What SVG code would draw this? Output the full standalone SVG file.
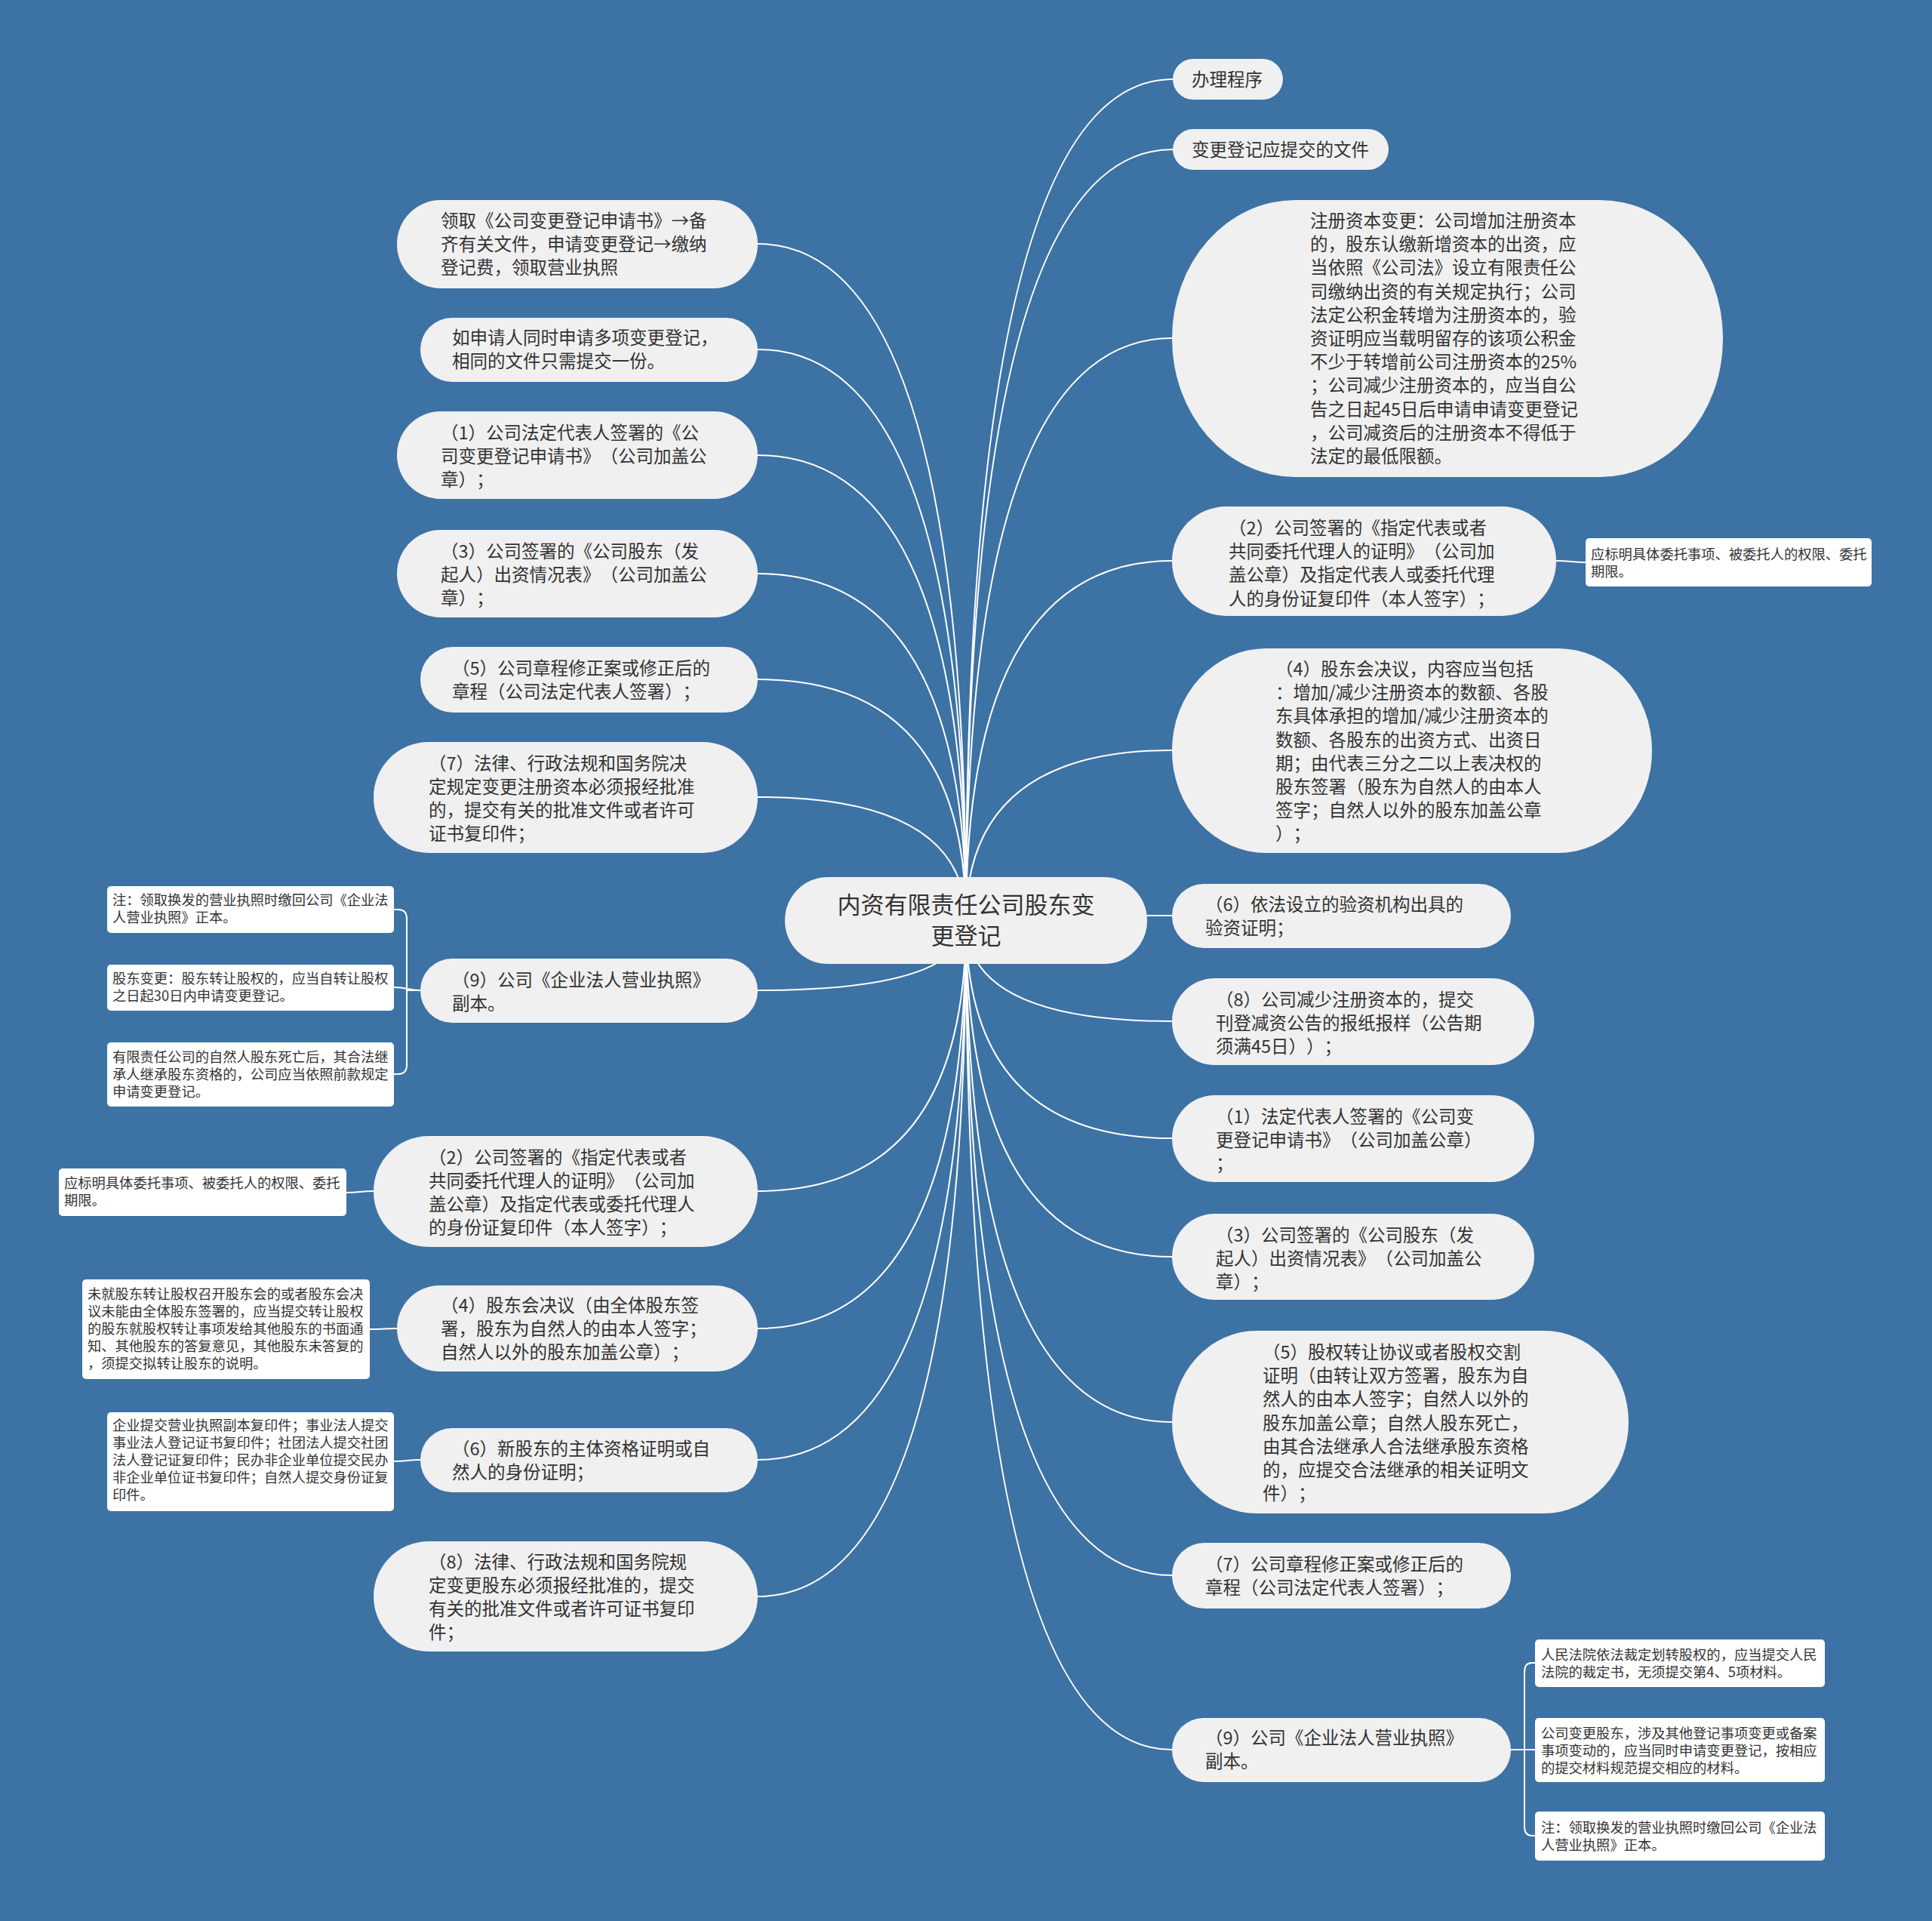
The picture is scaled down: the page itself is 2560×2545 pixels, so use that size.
<svg xmlns="http://www.w3.org/2000/svg" width="2560" height="2545" viewBox="0 0 2560 2545">
<style>
.bg{fill:#3d72a4}
.n{fill:#f0f0f0}
.leaf{fill:#ffffff}
text{text-spacing-trim:space-all}
.t{font-family:"Noto Sans CJK SC","Noto Sans",sans-serif;font-size:23.5px;fill:#333333}
.lt{font-family:"Noto Sans CJK SC","Noto Sans",sans-serif;font-size:18.3px;fill:#333333}
.ct{font-family:"Noto Sans CJK SC","Noto Sans",sans-serif;font-size:31px;fill:#333333;text-anchor:middle}
.c{fill:none;stroke:#ffffff;stroke-width:2}
</style>
<rect class="bg" x="0" y="0" width="2560" height="2545"/>
<g id="connectors">
<path class="c" d="M1280,1220 Q1280,105 1554,105"/>
<path class="c" d="M1280,1220 Q1280,198 1554,198"/>
<path class="c" d="M1280,1220 Q1280,448 1553,448"/>
<path class="c" d="M1280,1220 Q1280,743 1553,743"/>
<path class="c" d="M1280,1220 Q1280,994 1553,994"/>
<path class="c" d="M1280,1220 Q1280,1213 1553,1213"/>
<path class="c" d="M1280,1220 Q1280,1353 1553,1353"/>
<path class="c" d="M1280,1220 Q1280,1508 1553,1508"/>
<path class="c" d="M1280,1220 Q1280,1665 1553,1665"/>
<path class="c" d="M1280,1220 Q1280,1884 1553,1884"/>
<path class="c" d="M1280,1220 Q1280,2087 1553,2087"/>
<path class="c" d="M1280,1220 Q1280,2318 1553,2318"/>
<path class="c" d="M1280,1220 Q1280,323 1004,323"/>
<path class="c" d="M1280,1220 Q1280,463 1004,463"/>
<path class="c" d="M1280,1220 Q1280,603 1004,603"/>
<path class="c" d="M1280,1220 Q1280,760 1004,760"/>
<path class="c" d="M1280,1220 Q1280,900 1004,900"/>
<path class="c" d="M1280,1220 Q1280,1056 1004,1056"/>
<path class="c" d="M1280,1220 Q1280,1312 1004,1312"/>
<path class="c" d="M1280,1220 Q1280,1578 1004,1578"/>
<path class="c" d="M1280,1220 Q1280,1760 1004,1760"/>
<path class="c" d="M1280,1220 Q1280,1934 1004,1934"/>
<path class="c" d="M1280,1220 Q1280,2115 1004,2115"/>
<path class="c" d="M2062,743 C2082,743 2082,745 2101,745"/>
<path class="c" d="M495,1578 C477,1578 477,1580 459,1580"/>
<path class="c" d="M526,1760 C508,1760 508,1761 490,1761"/>
<path class="c" d="M557,1934 C540,1934 540,1936 522,1936"/>
<path class="c" d="M557,1312 L539,1312 L539,1217 Q539,1205 527,1205 L522,1205"/>
<path class="c" d="M557,1312 C540,1312 540,1308 522,1308"/>
<path class="c" d="M557,1312 L539,1312 L539,1411 Q539,1423 527,1423 L522,1423"/>
<path class="c" d="M2002,2318 L2020,2318 L2020,2215 Q2020,2203 2030,2203 L2034,2203"/>
<path class="c" d="M2002,2318 L2034,2318"/>
<path class="c" d="M2002,2318 L2020,2318 L2020,2420 Q2020,2432 2030,2432 L2034,2432"/>
</g>
<g id="center">
<rect class="n" x="1040" y="1162" width="480" height="115" rx="57" ry="57"/>
<text class="ct"><tspan x="1280" y="1210">内资有限责任公司股东变</tspan><tspan x="1280" y="1251">更登记</tspan></text>
</g>
<g id="r1">
<rect class="n" x="1554" y="78" width="146" height="54" rx="27"/>
<text class="t"><tspan x="1579" y="114">办理程序</tspan></text>
</g>
<g id="r2">
<rect class="n" x="1554" y="171" width="286" height="54" rx="27"/>
<text class="t"><tspan x="1579" y="207">变更登记应提交的文件</tspan></text>
</g>
<g id="r3">
<rect class="n" x="1553" y="265" width="730" height="367" rx="163" ry="183"/>
<text class="t"><tspan x="1736" y="301">注册资本变更：公司增加注册资本</tspan><tspan x="1736" y="332.2">的，股东认缴新增资本的出资，应</tspan><tspan x="1736" y="363.4">当依照《公司法》设立有限责任公</tspan><tspan x="1736" y="394.6">司缴纳出资的有关规定执行；公司</tspan><tspan x="1736" y="425.8">法定公积金转增为注册资本的，验</tspan><tspan x="1736" y="457">资证明应当载明留存的该项公积金</tspan><tspan x="1736" y="488.2">不少于转增前公司注册资本的25%</tspan><tspan x="1736" y="519.4">；公司减少注册资本的，应当自公</tspan><tspan x="1736" y="550.6">告之日起45日后申请申请变更登记</tspan><tspan x="1736" y="581.8">，公司减资后的注册资本不得低于</tspan><tspan x="1736" y="613">法定的最低限额。</tspan></text>
</g>
<g id="r4">
<rect class="n" x="1553" y="671" width="509" height="145" rx="72"/>
<text class="t"><tspan x="1628" y="708">（2）公司签署的《指定代表或者</tspan><tspan x="1628" y="739.2">共同委托代理人的证明》（公司加</tspan><tspan x="1628" y="770.4">盖公章）及指定代表人或委托代理</tspan><tspan x="1628" y="801.6">人的身份证复印件（本人签字）；</tspan></text>
</g>
<g id="r4a">
<rect class="leaf" x="2101" y="713" width="379" height="64" rx="5"/>
<text class="lt"><tspan x="2108" y="741">应标明具体委托事项、被委托人的权限、委托</tspan><tspan x="2108" y="764">期限。</tspan></text>
</g>
<g id="r5">
<rect class="n" x="1553" y="859" width="636" height="271" rx="125" ry="135"/>
<text class="t"><tspan x="1690" y="895">（4）股东会决议，内容应当包括</tspan><tspan x="1690" y="926.2">：增加/减少注册资本的数额、各股</tspan><tspan x="1690" y="957.4">东具体承担的增加/减少注册资本的</tspan><tspan x="1690" y="988.6">数额、各股东的出资方式、出资日</tspan><tspan x="1690" y="1019.8">期；由代表三分之二以上表决权的</tspan><tspan x="1690" y="1051">股东签署（股东为自然人的由本人</tspan><tspan x="1690" y="1082.2">签字；自然人以外的股东加盖公章</tspan><tspan x="1690" y="1113.4">）；</tspan></text>
</g>
<g id="r6">
<rect class="n" x="1553" y="1171" width="449" height="85" rx="42"/>
<text class="t"><tspan x="1597" y="1207">（6）依法设立的验资机构出具的</tspan><tspan x="1597" y="1238">验资证明；</tspan></text>
</g>
<g id="r7">
<rect class="n" x="1553" y="1296" width="480" height="115" rx="57"/>
<text class="t"><tspan x="1611" y="1333">（8）公司减少注册资本的，提交</tspan><tspan x="1611" y="1364">刊登减资公告的报纸报样（公告期</tspan><tspan x="1611" y="1395">须满45日））；</tspan></text>
</g>
<g id="r8">
<rect class="n" x="1553" y="1451" width="480" height="115" rx="57"/>
<text class="t"><tspan x="1611" y="1488">（1）法定代表人签署的《公司变</tspan><tspan x="1611" y="1519">更登记申请书》（公司加盖公章）</tspan><tspan x="1611" y="1550">；</tspan></text>
</g>
<g id="r9">
<rect class="n" x="1553" y="1608" width="480" height="114" rx="57"/>
<text class="t"><tspan x="1611" y="1645">（3）公司签署的《公司股东（发</tspan><tspan x="1611" y="1676">起人）出资情况表》（公司加盖公</tspan><tspan x="1611" y="1707">章）；</tspan></text>
</g>
<g id="r10">
<rect class="n" x="1553" y="1763" width="605" height="242" rx="112" ry="121"/>
<text class="t"><tspan x="1673" y="1800">（5）股权转让协议或者股权交割</tspan><tspan x="1673" y="1831.2">证明（由转让双方签署，股东为自</tspan><tspan x="1673" y="1862.4">然人的由本人签字；自然人以外的</tspan><tspan x="1673" y="1893.6">股东加盖公章；自然人股东死亡，</tspan><tspan x="1673" y="1924.8">由其合法继承人合法继承股东资格</tspan><tspan x="1673" y="1956">的，应提交合法继承的相关证明文</tspan><tspan x="1673" y="1987.2">件）；</tspan></text>
</g>
<g id="r11">
<rect class="n" x="1553" y="2044" width="449" height="87" rx="43"/>
<text class="t"><tspan x="1597" y="2081">（7）公司章程修正案或修正后的</tspan><tspan x="1597" y="2112">章程（公司法定代表人签署）；</tspan></text>
</g>
<g id="r12">
<rect class="n" x="1553" y="2276" width="449" height="85" rx="42"/>
<text class="t"><tspan x="1597" y="2311">（9）公司《企业法人营业执照》</tspan><tspan x="1597" y="2342">副本。</tspan></text>
</g>
<g id="r12a">
<rect class="leaf" x="2034" y="2172" width="384" height="63" rx="5"/>
<text class="lt"><tspan x="2042" y="2199">人民法院依法裁定划转股权的，应当提交人民</tspan><tspan x="2042" y="2222">法院的裁定书，无须提交第4、5项材料。</tspan></text>
</g>
<g id="r12b">
<rect class="leaf" x="2034" y="2276" width="384" height="85" rx="5"/>
<text class="lt"><tspan x="2042" y="2303">公司变更股东，涉及其他登记事项变更或备案</tspan><tspan x="2042" y="2326">事项变动的，应当同时申请变更登记，按相应</tspan><tspan x="2042" y="2349">的提交材料规范提交相应的材料。</tspan></text>
</g>
<g id="r12c">
<rect class="leaf" x="2034" y="2400" width="384" height="65" rx="5"/>
<text class="lt"><tspan x="2042" y="2428">注：领取换发的营业执照时缴回公司《企业法</tspan><tspan x="2042" y="2451">人营业执照》正本。</tspan></text>
</g>
<g id="l1">
<rect class="n" x="526" y="265" width="478" height="117" rx="58"/>
<text class="t"><tspan x="584" y="301">领取《公司变更登记申请书》→备</tspan><tspan x="584" y="332">齐有关文件，申请变更登记→缴纳</tspan><tspan x="584" y="363">登记费，领取营业执照</tspan></text>
</g>
<g id="l2">
<rect class="n" x="557" y="421" width="447" height="85" rx="42"/>
<text class="t"><tspan x="599" y="456">如申请人同时申请多项变更登记，</tspan><tspan x="599" y="487">相同的文件只需提交一份。</tspan></text>
</g>
<g id="l3">
<rect class="n" x="526" y="545" width="478" height="116" rx="58"/>
<text class="t"><tspan x="584" y="582">（1）公司法定代表人签署的《公</tspan><tspan x="584" y="613">司变更登记申请书》（公司加盖公</tspan><tspan x="584" y="644">章）；</tspan></text>
</g>
<g id="l4">
<rect class="n" x="526" y="702" width="478" height="116" rx="58"/>
<text class="t"><tspan x="584" y="739">（3）公司签署的《公司股东（发</tspan><tspan x="584" y="770">起人）出资情况表》（公司加盖公</tspan><tspan x="584" y="801">章）；</tspan></text>
</g>
<g id="l5">
<rect class="n" x="557" y="857" width="447" height="87" rx="43"/>
<text class="t"><tspan x="599" y="894">（5）公司章程修正案或修正后的</tspan><tspan x="599" y="925">章程（公司法定代表人签署）；</tspan></text>
</g>
<g id="l6">
<rect class="n" x="495" y="983" width="509" height="147" rx="73"/>
<text class="t"><tspan x="568" y="1020">（7）法律、行政法规和国务院决</tspan><tspan x="568" y="1051">定规定变更注册资本必须报经批准</tspan><tspan x="568" y="1082">的，提交有关的批准文件或者许可</tspan><tspan x="568" y="1113">证书复印件；</tspan></text>
</g>
<g id="l7">
<rect class="n" x="557" y="1270" width="447" height="85" rx="42"/>
<text class="t"><tspan x="599" y="1307">（9）公司《企业法人营业执照》</tspan><tspan x="599" y="1338">副本。</tspan></text>
</g>
<g id="l7a">
<rect class="leaf" x="142" y="1174" width="380" height="62" rx="5"/>
<text class="lt"><tspan x="149" y="1199">注：领取换发的营业执照时缴回公司《企业法</tspan><tspan x="149" y="1222">人营业执照》正本。</tspan></text>
</g>
<g id="l7b">
<rect class="leaf" x="142" y="1278" width="380" height="61" rx="5"/>
<text class="lt"><tspan x="149" y="1303">股东变更：股东转让股权的，应当自转让股权</tspan><tspan x="149" y="1326">之日起30日内申请变更登记。</tspan></text>
</g>
<g id="l7c">
<rect class="leaf" x="142" y="1381" width="380" height="85" rx="5"/>
<text class="lt"><tspan x="149" y="1407">有限责任公司的自然人股东死亡后，其合法继</tspan><tspan x="149" y="1430">承人继承股东资格的，公司应当依照前款规定</tspan><tspan x="149" y="1453">申请变更登记。</tspan></text>
</g>
<g id="l8">
<rect class="n" x="495" y="1505" width="509" height="147" rx="73"/>
<text class="t"><tspan x="568" y="1542">（2）公司签署的《指定代表或者</tspan><tspan x="568" y="1573">共同委托代理人的证明》（公司加</tspan><tspan x="568" y="1604">盖公章）及指定代表或委托代理人</tspan><tspan x="568" y="1635">的身份证复印件（本人签字）；</tspan></text>
</g>
<g id="l8a">
<rect class="leaf" x="78" y="1548" width="381" height="63" rx="5"/>
<text class="lt"><tspan x="85" y="1574">应标明具体委托事项、被委托人的权限、委托</tspan><tspan x="85" y="1597">期限。</tspan></text>
</g>
<g id="l9">
<rect class="n" x="526" y="1703" width="478" height="114" rx="57"/>
<text class="t"><tspan x="584" y="1738">（4）股东会决议（由全体股东签</tspan><tspan x="584" y="1769">署，股东为自然人的由本人签字；</tspan><tspan x="584" y="1800">自然人以外的股东加盖公章）；</tspan></text>
</g>
<g id="l9a">
<rect class="leaf" x="109" y="1695" width="381" height="132" rx="5"/>
<text class="lt"><tspan x="116" y="1721">未就股东转让股权召开股东会的或者股东会决</tspan><tspan x="116" y="1744">议未能由全体股东签署的，应当提交转让股权</tspan><tspan x="116" y="1767">的股东就股权转让事项发给其他股东的书面通</tspan><tspan x="116" y="1790">知、其他股东的答复意见，其他股东未答复的</tspan><tspan x="116" y="1813">，须提交拟转让股东的说明。</tspan></text>
</g>
<g id="l10">
<rect class="n" x="557" y="1892" width="447" height="85" rx="42"/>
<text class="t"><tspan x="599" y="1928">（6）新股东的主体资格证明或自</tspan><tspan x="599" y="1959">然人的身份证明；</tspan></text>
</g>
<g id="l10a">
<rect class="leaf" x="142" y="1871" width="380" height="131" rx="5"/>
<text class="lt"><tspan x="149" y="1895">企业提交营业执照副本复印件；事业法人提交</tspan><tspan x="149" y="1918">事业法人登记证书复印件；社团法人提交社团</tspan><tspan x="149" y="1941">法人登记证复印件；民办非企业单位提交民办</tspan><tspan x="149" y="1964">非企业单位证书复印件；自然人提交身份证复</tspan><tspan x="149" y="1987">印件。</tspan></text>
</g>
<g id="l11">
<rect class="n" x="495" y="2042" width="509" height="146" rx="73"/>
<text class="t"><tspan x="568" y="2078">（8）法律、行政法规和国务院规</tspan><tspan x="568" y="2109">定变更股东必须报经批准的，提交</tspan><tspan x="568" y="2140">有关的批准文件或者许可证书复印</tspan><tspan x="568" y="2171">件；</tspan></text>
</g>
</svg>
